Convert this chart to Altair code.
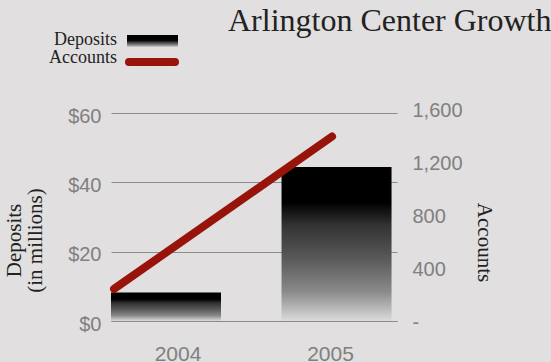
import altair as alt
import pandas as pd

# ---- data ----
years = ["2004", "2005"]
year_nums = [2004, 2005]
deposits = [8.2, 44.4]          # $ millions
accounts = [250, 1400]          # number of accounts
deposit_ticks = [0, 20, 40, 60]
account_ticks = [0, 400, 800, 1200, 1600]
legend_labels = ["Deposits", "Accounts"]
title_text = "Arlington Center Growth"
deposit_title = ["Deposits", "(in millions)"]
account_title = "Accounts"

df = pd.DataFrame({"year": years, "yearnum": year_nums,
                   "deposits": deposits, "accounts": accounts})

# ---- styles ----
BG = "#e1dfe0"
RED = "#98140a"
GRID = "#8c8c8c"
LABEL = "#808080"
DARK = "#222222"
SERIF = "Liberation Serif"
SANS = "Liberation Sans"

bar_grad = alt.LinearGradient(
    gradient="linear", x1=0, y1=0, x2=0, y2=1,
    stops=[
        alt.GradientStop(offset=0, color="#000000"),
        alt.GradientStop(offset=0.23, color="#000000"),
        alt.GradientStop(offset=0.38, color="#333333"),
        alt.GradientStop(offset=0.6, color="#5a5a5a"),
        alt.GradientStop(offset=0.81, color="#8a8a8a"),
        alt.GradientStop(offset=1, color="#dcdcdc"),
    ],
)
swatch_grad = alt.LinearGradient(
    gradient="linear", x1=0, y1=0, x2=0, y2=1,
    stops=[
        alt.GradientStop(offset=0, color="#000000"),
        alt.GradientStop(offset=0.45, color="#000000"),
        alt.GradientStop(offset=1, color="#bbbbbb"),
    ],
)

bars = alt.Chart(df).mark_bar(color=bar_grad).encode(
    x=alt.X(
        "year:N",
        scale=alt.Scale(paddingInner=0.355, paddingOuter=0.016, align=0),
        axis=alt.Axis(
            title=None, labelAngle=0, labelFont=SANS, labelFontSize=21,
            labelColor=LABEL, domain=True, domainColor=GRID, domainWidth=1,
            ticks=False, labelPadding=22,
            labelOffset={"condition": {"test": "datum.value === '2004'", "value": 12},
                         "value": -6},
        ),
    ),
    y=alt.Y(
        "deposits:Q",
        scale=alt.Scale(domain=[0, 60], nice=False),
        axis=alt.Axis(
            values=deposit_ticks, labelExpr="'$' + datum.value",
            grid=True, gridColor=GRID, gridWidth=1, domain=False, ticks=False,
            labelFont=SANS, labelFontSize=20, labelColor=LABEL, labelPadding=10,
            labelOffset=3,
            title=deposit_title, titleFont=SERIF, titleFontSize=21,
            titleFontWeight="normal", titleColor=DARK, titleAngle=-90,
            titleX=-91, titleY=127, titleBaseline="alphabetic", titleLineHeight=21,
        ),
    ),
)

line = alt.Chart(df).mark_line(color=RED, strokeWidth=8, strokeCap="round").encode(
    x=alt.X("yearnum:Q", scale=alt.Scale(domain=[2003.986, 2005.298], nice=False, zero=False),
            axis=None),
    y=alt.Y(
        "accounts:Q",
        scale=alt.Scale(domain=[0, 1600], nice=False, range=[209, -3]),
        axis=alt.Axis(
            orient="right", values=account_ticks,
            labelExpr="datum.value == 0 ? '-' : format(datum.value, ',')",
            grid=False, domain=False, ticks=False, labelPadding=15,
            labelFont=SANS, labelFontSize=20, labelColor=LABEL,
            title=account_title, titleFont=SERIF, titleFontSize=21,
            titleFontWeight="normal", titleColor=DARK, titleAngle=90,
            titleX=80, titleY=129, titleBaseline="alphabetic",
        ),
    ),
)

# ---- manual legend ----
leg_dep_text = alt.Chart(pd.DataFrame({"label": [legend_labels[0]]})).mark_text(
    align="right", baseline="alphabetic", font=SERIF, fontSize=18, color=DARK
).encode(text="label:N", x=alt.value(6), y=alt.value(-68))

leg_acc_text = alt.Chart(pd.DataFrame({"label": [legend_labels[1]]})).mark_text(
    align="right", baseline="alphabetic", font=SERIF, fontSize=18, color=DARK
).encode(text="label:N", x=alt.value(6), y=alt.value(-49.7))

leg_dep_swatch = alt.Chart(pd.DataFrame({"label": [legend_labels[0]]})).mark_rect(
    color=swatch_grad
).encode(x=alt.value(16), x2=alt.value(67), y=alt.value(-78), y2=alt.value(-66.3))

leg_acc_swatch = alt.Chart(pd.DataFrame({"label": [legend_labels[1]]})).mark_rule(
    color=RED, strokeWidth=8, strokeCap="round"
).encode(x=alt.value(18), x2=alt.value(64), y=alt.value(-51))

chart = alt.layer(
    bars, line, leg_dep_text, leg_acc_text, leg_dep_swatch, leg_acc_swatch
).resolve_scale(
    x="independent", y="independent"
).properties(
    width=286, height=208,
    autosize=alt.AutoSizeParams(type="none"),
    padding={"left": 111, "top": 113, "right": 154, "bottom": 41},
    background=BG,
    title=alt.TitleParams(
        text=title_text, font=SERIF, fontSize=32, fontWeight="normal",
        color=DARK, anchor="start", frame="group", dx=117, dy=36,
        baseline="alphabetic",
    ),
).configure_view(stroke=None)

chart.save("out.html", embed_options={"renderer": "svg", "actions": False})
